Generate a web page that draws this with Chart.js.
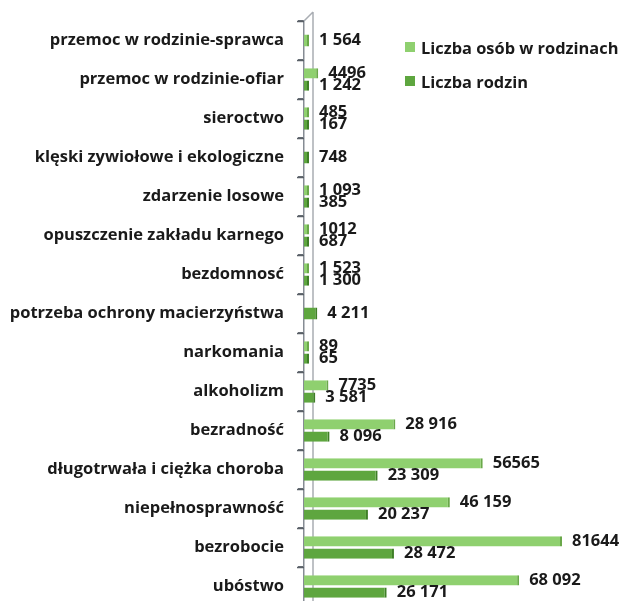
<!DOCTYPE html>
<html>
<head>
<meta charset="utf-8">
<script src="https://cdn.jsdelivr.net/npm/chart.js@4.4.1/dist/chart.umd.min.js"></script>
<style>
  html, body { margin: 0; padding: 0; background: #fff; overflow: hidden; }
  #wrap { position: relative; width: 624px; height: 612px; }
  #legend { position: absolute; left: 405px; top: 30px; font-family: "Open Sans", sans-serif; font-weight: 700; font-size: 16.4px; color: #1a1a1a; }
  .li { display: flex; align-items: center; height: 34px; }
  .sw { width: 10px; height: 10px; margin-right: 6px; }
</style>
</head>
<body>
<div id="wrap">
  <canvas id="c" width="624" height="612"></canvas>
  <div id="legend"></div>
</div>
<script>
const categories = [
  "przemoc w rodzinie-sprawca",
  "przemoc w rodzinie-ofiar",
  "sieroctwo",
  "klęski zywiołowe i ekologiczne",
  "zdarzenie losowe",
  "opuszczenie zakładu karnego",
  "bezdomnosć",
  "potrzeba ochrony macierzyństwa",
  "narkomania",
  "alkoholizm",
  "bezradność",
  "długotrwała i ciężka choroba",
  "niepełnosprawność",
  "bezrobocie",
  "ubóstwo"
];
const seriesNames = ["Liczba osób w rodzinach", "Liczba rodzin"];
const osobyValues = [1564, 4496, 485, null, 1093, 1012, 1523, null, 89, 7735, 28916, 56565, 46159, 81644, 68092];
const rodzinValues = [null, 1242, 167, 748, 385, 687, 1300, 4211, 65, 3581, 8096, 23309, 20237, 28472, 26171];
const osobyLabels = ["1 564", "4496", "485", "", "1 093", "1012", "1 523", "", "89", "7735", "28 916", "56565", "46 159", "81644", "68 092"];
const rodzinLabels = ["", "1 242", "167", "748", "385", "687", "1 300", "4 211", "65", "3 581", "8 096", "23 309", "20 237", "28 472", "26 171"];
const xMax = 100000;

const colors = { light: "#8fd06f", lightEdge: "#6aa84a", dark: "#5ea63f", darkEdge: "#3f7f27" };

const labelPlugin = {
  id: "valueLabels",
  afterDatasetsDraw(chart) {
    const ctx = chart.ctx;
    ctx.save();
    ctx.font = "700 16.5px 'Open Sans', sans-serif";
    ctx.fillStyle = "#1a1a1a";
    ctx.textBaseline = "middle";
    ctx.textAlign = "left";
    const sets = [osobyLabels, rodzinLabels];
    chart.data.datasets.forEach((ds, di) => {
      const meta = chart.getDatasetMeta(di);
      meta.data.forEach((bar, i) => {
        const t = sets[di][i];
        if (!t || ds.data[i] == null) return;
        ctx.fillText(t, bar.x + 10, bar.y);
      });
    });
    ctx.restore();
  }
};

const wallPlugin = {
  id: "wall",
  afterDraw(chart) {
    const { ctx, chartArea } = chart;
    const ys = chart.scales.y;
    ctx.save();
    ctx.strokeStyle = "#5a6067";
    ctx.lineWidth = 1.5;
    ctx.beginPath();
    for (let i = 0; i <= categories.length; i++) {
      const y = Math.round(ys.getPixelForValue(i - 0.5)) + 0.5;
      ctx.moveTo(chartArea.left - 7, y);
      ctx.lineTo(chartArea.left, y);
    }
    ctx.stroke();
    ctx.restore();
  },
  beforeDatasetsDraw(chart) {
    const { ctx, chartArea } = chart;
    ctx.save();
    ctx.strokeStyle = "#a9adb3";
    ctx.lineWidth = 1.5;
    ctx.beginPath();
    ctx.moveTo(chartArea.left + 9, chartArea.top - 9);
    ctx.lineTo(chartArea.left + 9, chartArea.bottom);
    ctx.moveTo(chartArea.left, chartArea.top);
    ctx.lineTo(chartArea.left + 9, chartArea.top - 9);
    ctx.stroke();
    ctx.restore();
  }
};

const chart = new Chart(document.getElementById("c"), {
  type: "bar",
  data: {
    labels: categories,
    datasets: [
      { label: seriesNames[0], data: osobyValues, backgroundColor: colors.light, borderColor: colors.lightEdge,
        borderWidth: { right: 2, top: 0, bottom: 0, left: 0 }, borderSkipped: false },
      { label: seriesNames[1], data: rodzinValues, backgroundColor: colors.dark, borderColor: colors.darkEdge,
        borderWidth: { right: 2, top: 0, bottom: 0, left: 0 }, borderSkipped: false }
    ]
  },
  options: {
    indexAxis: "y",
    responsive: false,
    animation: false,
    skipNull: true,
    categoryPercentage: 0.62,
    barPercentage: 0.85,
    maxBarThickness: 12,
    minBarLength: 5,
    layout: { padding: { top: 21, bottom: 6, right: 4, left: 0 } },
    plugins: { legend: { display: false }, tooltip: { enabled: false } },
    scales: {
      x: { display: false, min: 0, max: xMax },
      y: {
        afterFit(scale) { scale.width = 304; scale.paddingTop = 0; scale.paddingBottom = 0; },
        border: { color: "#868c94", width: 1.5 },
        grid: { offset: true, drawOnChartArea: false, drawTicks: true, tickLength: 6, color: "#6a7077", lineWidth: 1.2 },
        ticks: { padding: 14, color: "#1a1a1a", font: { family: "'Open Sans', sans-serif", weight: "700", size: 16.5 } }
      }
    }
  },
  plugins: [wallPlugin, labelPlugin]
});

const lg = document.getElementById("legend");
[colors.light, colors.dark].forEach((c, i) => {
  const d = document.createElement("div");
  d.className = "li";
  d.innerHTML = '<span class="sw" style="background:' + c + '"></span><span>' + seriesNames[i] + '</span>';
  lg.appendChild(d);
});
</script>
</body>
</html>
